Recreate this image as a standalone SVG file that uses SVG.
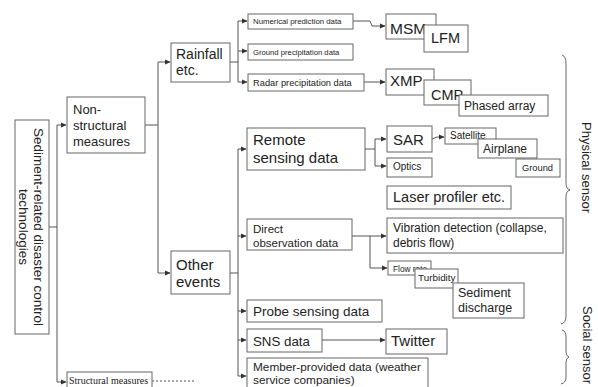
<svg xmlns="http://www.w3.org/2000/svg" width="598" height="387" viewBox="0 0 598 387">
<defs>
<marker id="ah" markerWidth="6" markerHeight="6" refX="5" refY="3" orient="auto" markerUnits="userSpaceOnUse">
<path d="M0,0.5 L5.5,3 L0,5.5 Z" fill="#333"/>
</marker>
</defs>
<style>
rect{fill:#fff;stroke:#666;stroke-width:1}
text{font-family:"Liberation Sans",Arial,sans-serif;fill:#222}
.c{fill:none;stroke:#555;stroke-width:1}
.a{marker-end:url(#ah)}
.b{fill:none;stroke:#666;stroke-width:1}
</style>
<rect width="598" height="387" style="fill:#fff;stroke:none"/>
<g id="connectors">
<path class="c" d="M49,227 H57 M57,125 V382"/>
<path class="c a" d="M57,125 H66"/>
<path class="c a" d="M57,382 H66"/>
<path class="c" d="M145,125 H158 M158,62 V273"/>
<path class="c a" d="M158,62 H170"/>
<path class="c a" d="M158,273 H170"/>
<path class="c" d="M230,62 H238 M238,21 V82"/>
<path class="c a" d="M238,21 H247"/>
<path class="c a" d="M238,51 H247"/>
<path class="c a" d="M238,82 H247"/>
<path class="c a" d="M353,21 H370 L372,26 H385"/>
<path class="c a" d="M364,82 H385"/>
<path class="c" d="M230,273 H238 M238,149 V376"/>
<path class="c a" d="M238,149 H246"/>
<path class="c a" d="M238,236 H246"/>
<path class="c a" d="M238,311 H246"/>
<path class="c a" d="M238,340 H246"/>
<path class="c a" d="M238,376 H246"/>
<path class="c" d="M365,149 H375 M375,139 V166"/>
<path class="c a" d="M375,139 H386"/>
<path class="c a" d="M375,166 H386"/>
<path class="c a" d="M432,139 L437,137 H444"/>
<path class="c a" d="M352,236 H386"/>
<path class="c" d="M370,236 V268"/>
<path class="c a" d="M370,268 H387"/>
<path class="c a" d="M322,340 H385"/>
<path class="c" d="M152,381 H196" stroke-dasharray="2,2"/>
</g>
<g id="main">
<rect x="15" y="120" width="34" height="214"/>
<text transform="translate(34,227) rotate(90)" text-anchor="middle" font-size="13.5">Sediment-related disaster control</text>
<text transform="translate(19,227) rotate(90)" text-anchor="middle" font-size="13.5">technologies</text>
</g>
<g id="nonstructural">
<rect x="67" y="97" width="78" height="56"/>
<text font-size="13"><tspan x="73" y="114">Non-</tspan><tspan x="73" y="130">structural</tspan><tspan x="73" y="146">measures</tspan></text>
</g>
<g id="structural">
<rect x="67" y="372" width="85" height="20"/>
<text x="69" y="384" font-size="10" style="font-family:'Liberation Serif',serif">Structural measures</text>
</g>
<g id="rainfall">
<rect x="171" y="43" width="59" height="39"/>
<text font-size="14"><tspan x="176" y="59">Rainfall</tspan><tspan x="176" y="75">etc.</tspan></text>
</g>
<g id="other">
<rect x="171" y="251" width="59" height="43"/>
<text font-size="15"><tspan x="176" y="270">Other</tspan><tspan x="176" y="287">events</tspan></text>
</g>
<g id="numerical">
<rect x="248" y="14" width="105" height="15"/>
<text x="253" y="24" font-size="7.8">Numerical prediction data</text>
</g>
<g id="ground-precip">
<rect x="248" y="44" width="105" height="16"/>
<text x="253" y="55" font-size="7.7">Ground precipitation data</text>
</g>
<g id="radar">
<rect x="248" y="74" width="116" height="17"/>
<text x="253" y="86" font-size="9.3">Radar precipitation data</text>
</g>
<g id="msm">
<rect x="386" y="14" width="50" height="25"/>
<text x="390" y="34" font-size="15.5">MSM</text>
</g>
<g id="lfm">
<rect x="424" y="25" width="44" height="27"/>
<text x="431" y="43" font-size="14.5">LFM</text>
</g>
<g id="xmp">
<rect x="386" y="69" width="48" height="26"/>
<text x="390" y="86" font-size="15">XMP</text>
</g>
<g id="cmp">
<rect x="424" y="80" width="47" height="25"/>
<text x="431" y="100" font-size="14.5">CMP</text>
</g>
<g id="phased">
<rect x="459" y="95" width="89" height="21"/>
<text x="464" y="110" font-size="12">Phased array</text>
</g>
<g id="remote">
<rect x="247" y="128" width="118" height="42"/>
<text font-size="15"><tspan x="253" y="145">Remote</tspan><tspan x="253" y="163">sensing data</tspan></text>
</g>
<g id="sar">
<rect x="387" y="126" width="45" height="26"/>
<text x="393" y="145" font-size="15">SAR</text>
</g>
<g id="optics">
<rect x="387" y="158" width="45" height="19"/>
<text x="393" y="170" font-size="10">Optics</text>
</g>
<g id="satellite">
<rect x="445" y="128" width="51" height="16"/>
<text x="450" y="139" font-size="10">Satellite</text>
</g>
<g id="airplane">
<rect x="478" y="139" width="59" height="19"/>
<text x="483" y="153" font-size="12">Airplane</text>
</g>
<g id="ground">
<rect x="516" y="159" width="44" height="18"/>
<text x="522" y="171" font-size="9.3">Ground</text>
</g>
<g id="laser">
<rect x="387" y="186" width="124" height="23"/>
<text x="393" y="202" font-size="14.5">Laser profiler etc.</text>
</g>
<g id="direct">
<rect x="247" y="219" width="105" height="31"/>
<text font-size="11.5"><tspan x="253" y="233">Direct</tspan><tspan x="253" y="247">observation data</tspan></text>
</g>
<g id="vibration">
<rect x="387" y="218" width="176" height="35"/>
<text font-size="12"><tspan x="393" y="232">Vibration detection (collapse,</tspan><tspan x="393" y="247">debris flow)</tspan></text>
</g>
<g id="flowrate">
<rect x="388" y="261" width="43" height="14"/>
<text x="393" y="272" font-size="8.3">Flow rate</text>
</g>
<g id="turbidity">
<rect x="415" y="269" width="43" height="19"/>
<text x="418" y="281" font-size="9.9">Turbidity</text>
</g>
<g id="sediment">
<rect x="453" y="283" width="71" height="35"/>
<text font-size="12.5"><tspan x="458" y="297">Sediment</tspan><tspan x="458" y="312">discharge</tspan></text>
</g>
<g id="probe">
<rect x="247" y="300" width="135" height="22"/>
<text x="253" y="316" font-size="13.5">Probe sensing data</text>
</g>
<g id="sns">
<rect x="247" y="329" width="75" height="23"/>
<text x="253" y="346" font-size="13.3">SNS data</text>
</g>
<g id="twitter">
<rect x="386" y="329" width="61" height="25"/>
<text x="391" y="346" font-size="15">Twitter</text>
</g>
<g id="member">
<rect x="247" y="358" width="181" height="40"/>
<text font-size="11.8"><tspan x="253" y="371">Member-provided data (weather</tspan><tspan x="253" y="384">service companies)</tspan></text>
</g>
<g id="physical-sensor">
<path class="b" d="M562,55 Q566,56 566,64 L566,183 Q566,189 570,190 Q566,191 566,197 L566,316 Q566,323 561,324"/>
<text transform="translate(582,122) rotate(90)" font-size="13">Physical sensor</text>
</g>
<g id="social-sensor">
<path class="b" d="M562,330 Q566,331 566,337 L566,352 Q566,356 569,357 Q566,358 566,362 L566,377 Q566,383 561,384"/>
<text transform="translate(583,306) rotate(90)" font-size="13">Social sensor</text>
</g>
</svg>
